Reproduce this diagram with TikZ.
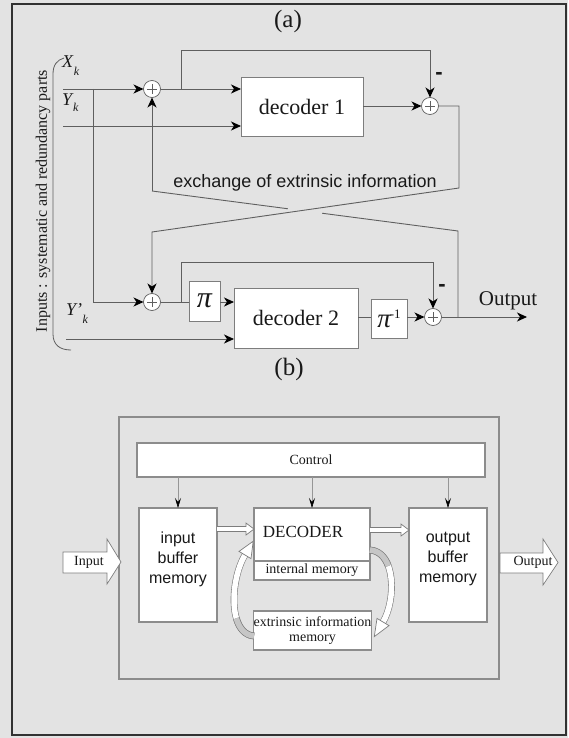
\documentclass[tikz,border=0pt]{standalone}
\usepackage{fontspec}
\setmainfont{Liberation Serif}
\setsansfont{Liberation Sans}
\usetikzlibrary{arrows.meta,calc}
\definecolor{bg}{RGB}{227,227,227}
\definecolor{ln}{RGB}{95,95,95}
\definecolor{bx}{RGB}{125,125,125}
\definecolor{bbx}{RGB}{140,140,140}
\definecolor{lt}{RGB}{150,150,150}
\definecolor{tx}{RGB}{25,25,25}
\definecolor{fr}{RGB}{50,50,50}
\newcommand\myfs[1]{\fontsize{#1}{#1}\selectfont}
\tikzset{
  box/.style={draw=bx, fill=white, line width=0.9pt, inner sep=0pt, outer sep=0pt, text=tx},
  bbox/.style={draw=bbx, fill=white, line width=1.1pt, inner sep=0pt, outer sep=0pt, text=tx},
  sum/.style={circle, draw=ln, fill=white, line width=0.7pt, minimum size=17pt, inner sep=0pt, outer sep=0pt,
    path picture={\draw[ln, line width=0.6pt]
      ([xshift=3.5pt]path picture bounding box.west) -- ([xshift=-3.5pt]path picture bounding box.east)
      ([yshift=-3.5pt]path picture bounding box.north) -- ([yshift=3.5pt]path picture bounding box.south);}},
  conn/.style={draw=ln, line width=0.9pt},
  arr/.style={conn, -{Stealth[length=10pt,width=9pt,inset=3pt,color=black]}},
  carr/.style={draw=lt, line width=0.6pt, -{Stealth[length=10pt,width=6pt,inset=4pt,color=black]}},
  lbl/.style={inner sep=0pt, outer sep=0pt, text=tx},
  hollow/.style={draw=bx, fill=white, line width=0.7pt},
  band/.style={draw=bx, double=white, double distance=5.5pt, line width=0.6pt},
}
\newcommand\hollowarrow[2]{%
  \draw[hollow] let \p1=(#1), \p2=(#2) in
    (\x1,\y1+2.5pt) -- (\x2-8pt,\y1+2.5pt) -- (\x2-8pt,\y1+6pt) -- (\x2,\y1)
    -- (\x2-8pt,\y1-6pt) -- (\x2-8pt,\y1-2.5pt) -- (\x1,\y1-2.5pt);}
\begin{document}
\begin{tikzpicture}[x=1pt,y=-1pt]
\useasboundingbox (0,0) rectangle (568,738);
\fill[bg] (0,0) rectangle (568,738);
\draw[fr, line width=1.2pt] (12,4) rectangle (566,735);

% ---------------- part (a) ----------------
\node[lbl, font=\myfs{25}] (la) at (288,21) {(a)};
\node[box, minimum width=122, minimum height=59, font=\myfs{22}] (dec1) at (302,106.5) {decoder 1};
\node[box, minimum width=124, minimum height=60, font=\myfs{22}] (dec2) at (296,318) {decoder 2};
\node[box, minimum width=31, minimum height=40, font=\myfs{30}\itshape] (pi1) at (204.5,301) {π};
\node[box, minimum width=36, minimum height=39] (pi2) at (389,318.5) {{\myfs{27}\itshape π}\kern-1pt\raisebox{9pt}{\myfs{13}-1}};
\node[sum] (s1) at (152,89) {};
\node[sum] (s2) at (430,106) {};
\node[sum] (s3) at (152,302) {};
\node[sum] (s4) at (433,317) {};

\node[lbl, font=\myfs{18}, anchor=base west] (xk) at (62,68) {\itshape X\kern1pt\raisebox{-8pt}{\myfs{12}k}};
\node[lbl, font=\myfs{18}, anchor=base west] (yk) at (62,106) {\itshape Y\kern1pt\raisebox{-6pt}{\myfs{12}k}};
\node[lbl, font=\myfs{18}, anchor=base west] (ypk) at (66,315) {\itshape Y’\kern0.5pt\raisebox{-8pt}{\myfs{12}k}};
\node[lbl, rotate=90, font=\myfs{16}] (inputs) at (43,201) {Inputs : systematic and redundancy parts};
\node[lbl, font=\sffamily\myfs{18}] (exch) at (305,183) {exchange of extrinsic information};
\node[lbl, font=\myfs{21}] (outl) at (508,301) {Output};
\node[lbl, font=\sffamily\bfseries\myfs{22}] (m1) at (439,76) {-};
\node[lbl, font=\sffamily\bfseries\myfs{22}] (m2) at (442,288) {-};
\node[lbl, font=\myfs{25}] (lb) at (289,369) {(b)};

\coordinate (yin) at (63,89);
\coordinate (j1) at (93,89);
\coordinate (xin) at (63,126);
\coordinate (b1) at (181,89);
\coordinate (c7a) at (459,188);
\coordinate (c7b) at (152,232);
\coordinate (c8a) at (152,191);
\coordinate (c8b) at (458,231);
\coordinate (b3) at (181,302);
\coordinate (ypin) at (66,339);
\coordinate (outp) at (527,317);

\draw[conn, line width=0.8pt] (64,58) .. controls (57,60) and (53,65) .. (53,74) -- (53,334)
  .. controls (53,345) and (60,350) .. (71,350);

\draw[arr] (yin) -- (s1);
\draw[arr] (j1) |- (s3);
\draw[arr] (xin) -- (xin -| dec1.west);
\draw[arr] (s1) -- (s1 -| dec1.west);
\draw[arr] (b1) -- ++(0,-39) -| (s2);
\draw[arr] (dec1.east |- s2) -- (s2);
\draw[arr] (s2) -| (c7a) -- (c7b) -- (s3);
\draw[arr] (c8a) -- (s1);
\draw[conn] (c8a) -- ($(c8a)!0.444!(c8b)$);
\draw[conn] ($(c8a)!0.556!(c8b)$) -- (c8b) -- (c8b |- s4);
\draw[conn] (s3) -- (s3 -| pi1.west);
\draw[arr] (b3) -- ++(0,-40) -| (s4);
\draw[arr] (s3 -| pi1.east) -- (s3 -| dec2.west);
\draw[arr] (ypin) -- (ypin -| dec2.west);
\draw[conn] (s4 -| dec2.east) -- (s4 -| pi2.west);
\draw[arr] (s4 -| pi2.east) -- (s4);
\draw[arr] (s4) -- (outp);

% ---------------- part (b) ----------------
\node[bbox, fill=none, minimum width=380, minimum height=262] (outer) at (309,548) {};
\node[bbox, minimum width=348, minimum height=34, font=\myfs{14}] (ctrl) at (311,460) {Control};
\node[bbox, minimum width=78, minimum height=114, align=center, font=\sffamily\fontsize{16}{20}\selectfont] (ib) at (178,565) {input\\buffer\\memory\\[-5pt]\mbox{}};
\node[bbox, minimum width=116, minimum height=53] (dec) at (312,534.5) {};
\node[lbl, font=\myfs{17}] (decl) at (303,532) {DECODER};
\node[bbox, minimum width=116, minimum height=19, font=\myfs{14}] (im) at (312,570.5) {internal memory};
\node[bbox, minimum width=117, minimum height=39, align=center, font=\fontsize{14}{15}\selectfont] (ext) at (312.5,630.5) {extrinsic information\\memory};
\node[bbox, minimum width=78, minimum height=114, align=center, font=\sffamily\fontsize{16}{20}\selectfont] (ob) at (448,565) {output\\buffer\\memory\\[-5pt]\mbox{}};

\draw[carr] (ctrl.south -| ib) -- (ib.north);
\draw[carr] (ctrl.south -| dec) -- (dec.north);
\draw[carr] (ctrl.south -| ob) -- (ob.north);

\coordinate (h1) at ($(ib.north east)+(0,21)$);
\hollowarrow{h1}{h1 -| dec.west}
\coordinate (h2) at ($(dec.north east)+(0,22)$);
\hollowarrow{h2}{h2 -| ob.west}

% input / output block arrows
\draw[hollow] (63,552) -- (107,552) -- (107,539) -- (121,562) -- (107,584) -- (107,573) -- (63,573) -- cycle;
\node[lbl, font=\myfs{14}] (inp) at (89,562) {Input};
\draw[hollow] (500,553) -- (543,553) -- (543,539) -- (558,562.5) -- (543,585) -- (543,573) -- (500,573) -- cycle;
\node[lbl, font=\myfs{14}] (outp2) at (533,562) {Output};

% curved arrows
\draw[band] (254,636) .. controls (228,634) and (230,580) .. (245,555);
\draw[band, double=gray!45] (254,636) .. controls (244.9,635.3) and (239.2,628.2) .. (236.3,618.3);
\draw[hollow] (251,558.6) -- (253.2,541.2) -- (239,551.4) -- cycle;
\draw[band] (370,550) .. controls (396,552) and (396,600) .. (383,622);
\draw[band, double=gray!45] (370,550) .. controls (379.1,550.7) and (385,557) .. (388.3,565.9);
\draw[hollow] (389,625.6) -- (374.3,636.6) -- (377,618.4) -- cycle;
\end{tikzpicture}
\end{document}
